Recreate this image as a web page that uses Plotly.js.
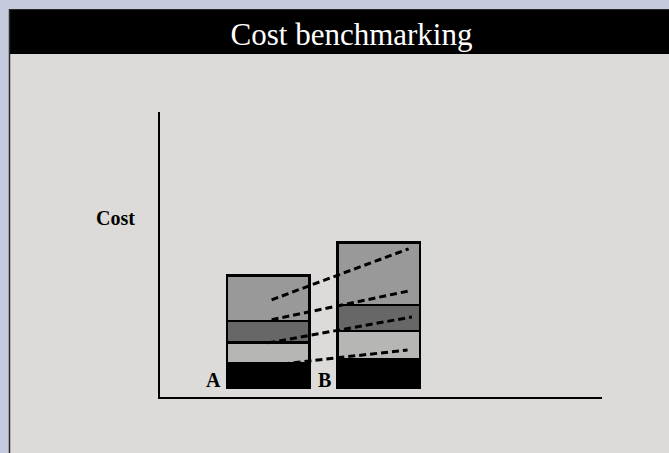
<!DOCTYPE html>
<html>
<head>
<meta charset="utf-8">
<script src="https://cdn.plot.ly/plotly-3.0.1.min.js"></script>
<style>
  html, body { margin: 0; padding: 0; background: #c6cadd; }
  #chart { width: 669px; height: 453px; }
</style>
</head>
<body>
<div id="chart"></div>
<script>
// ---- data ----
const categories = ['A', 'B'];
const categoryPos = [1, 2];
const baseCost = [8.5, 10];      // black segment
const lightCost = [7.5, 10];     // light grey segment
const darkCost = [7.5, 9];       // dark grey segment
const topCost = [16, 22];        // medium grey segment
const trendStartX = [1.03, 1.03, 1.0, 1.13];
const trendStartY = [30.9, 23.9, 15.8, 8.4];
const trendEndX = [2.27, 2.27, 2.30, 2.26];
const trendEndY = [48.8, 34.0, 24.9, 13.3];

// ---- layout helpers (pixel -> paper) ----
const W = 669, H = 453;
const L = 160, R = 602, T = 112, B = 397;
const px = x => (x - L) / (R - L);
const py = y => (B - y) / (B - T);

const segColors = ['#000000', '#b6b7b5', '#676767', '#999999'];
const segs = [baseCost, lightCost, darkCost, topCost];

const traces = segs.map((vals, i) => ({
  type: 'bar',
  x: categoryPos,
  y: vals,
  width: 0.75,
  marker: { color: segColors[i], line: { color: '#000', width: 2.5 } },
  hoverinfo: 'skip',
  showlegend: false
}));

for (let i = 0; i < trendStartX.length; i++) {
  traces.push({
    type: 'scatter',
    mode: 'lines',
    x: [trendStartX[i], trendEndX[i]],
    y: [trendStartY[i], trendEndY[i]],
    line: { color: '#000', width: 3, dash: '7px,4px' },
    hoverinfo: 'skip',
    showlegend: false
  });
}

const annotations = categories.map((c, i) => ({
  x: categoryPos[i] - 0.375,
  y: 0,
  xref: 'x', yref: 'y',
  xanchor: 'right', yanchor: 'bottom',
  xshift: -4, yshift: -5,
  text: '<b>' + c + '</b>',
  showarrow: false,
  font: { family: 'Liberation Serif', size: 20, color: '#000' }
}));
annotations.push({
  x: px(115.5), y: py(218),
  xref: 'paper', yref: 'paper',
  xanchor: 'center', yanchor: 'middle',
  text: '<b>Cost</b>',
  showarrow: false,
  font: { family: 'Liberation Serif', size: 20, color: '#000' }
});

const layout = {
  width: W, height: H,
  margin: { l: L, r: W - R, t: T, b: H - B, pad: 0 },
  paper_bgcolor: '#c6cadd',
  plot_bgcolor: 'rgba(0,0,0,0)',
  barmode: 'stack',
  bargap: 0,
  title: {
    text: 'Cost benchmarking',
    x: 351.5 / W, xanchor: 'center', xref: 'container',
    y: 1 - 34 / H, yanchor: 'middle', yref: 'container',
    font: { family: 'Liberation Serif', size: 31, color: '#ffffff' }
  },
  xaxis: {
    range: [0.02, 4.02],
    showline: true, linecolor: '#000', linewidth: 2,
    showgrid: false, zeroline: false, showticklabels: false, ticks: '',
    fixedrange: true
  },
  yaxis: {
    range: [-3.2, 96.8],
    showline: true, linecolor: '#000', linewidth: 2,
    showgrid: false, zeroline: false, showticklabels: false, ticks: '',
    fixedrange: true
  },
  shapes: [
    { type: 'rect', xref: 'paper', yref: 'paper', layer: 'below',
      x0: px(9), x1: px(670), y0: py(454), y1: py(54),
      fillcolor: '#dcdbd9', line: { width: 0 } },
    { type: 'rect', xref: 'paper', yref: 'paper', layer: 'below',
      x0: px(9), x1: px(670), y0: py(54), y1: py(9),
      fillcolor: '#000000', line: { width: 0 } },
    { type: 'line', xref: 'paper', yref: 'paper', layer: 'below',
      x0: px(9.5), x1: px(9.5), y0: py(454), y1: py(9),
      line: { color: '#2a2a2a', width: 1.5 } },
    { type: 'line', xref: 'paper', yref: 'paper', layer: 'below',
      x0: px(9), x1: px(670), y0: py(9.5), y1: py(9.5),
      line: { color: '#2a2a2a', width: 1 } }
  ],
  annotations: annotations
};

Plotly.newPlot('chart', traces, layout, { displayModeBar: false, staticPlot: true });
</script>
</body>
</html>
